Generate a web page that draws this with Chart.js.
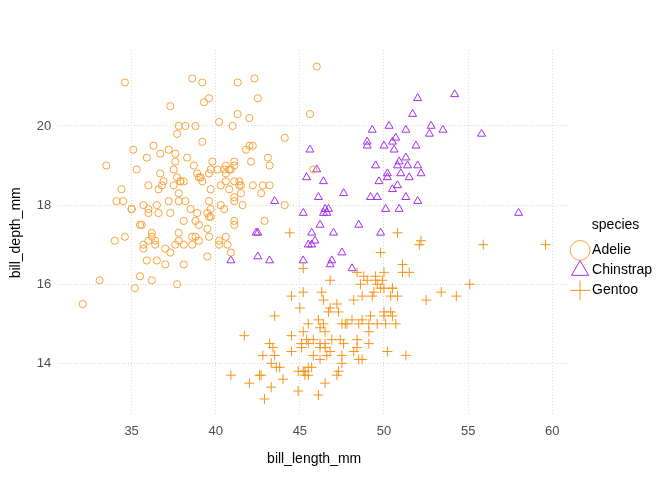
<!DOCTYPE html>
<html>
<head>
<meta charset="utf-8">
<script src="https://cdn.jsdelivr.net/npm/chart.js@4"></script>
<style>
  html, body { margin: 0; padding: 0; background: #fff; }
  #wrap { position: relative; width: 672px; height: 480px; }
</style>
</head>
<body>
<div id="wrap"><canvas id="c"></canvas></div>
<script>
// species names
const speciesNames = ['Adelie', 'Chinstrap', 'Gentoo'];

// bill_length_mm / bill_depth_mm per species
const adelieLength = [39.1,39.5,40.3,36.7,39.3,38.9,39.2,34.1,42,37.8,37.8,41.1,38.6,34.6,36.6,38.7,42.5,34.4,46,37.8,37.7,35.9,38.2,38.8,35.3,40.6,40.5,37.9,40.5,39.5,37.2,39.5,40.9,36.4,39.2,38.8,42.2,37.6,39.8,36.5,40.8,36,44.1,37,39.6,41.1,37.5,36,42.3,39.6,40.1,35,42,34.5,41.4,39,40.6,36.5,37.6,35.7,41.3,37.6,41.1,36.4,41.6,35.5,41.1,35.9,41.8,33.5,39.7,39.6,45.8,35.5,42.8,40.9,37.2,36.2,42.1,34.6,42.9,36.7,35.1,37.3,41.3,36.3,36.9,38.3,38.9,35.7,41.1,34,39.6,36.2,40.8,38.1,40.3,33.1,43.2,35,41,37.7,37.8,37.9,39.7,38.6,38.2,38.1,43.2,38.1,45.6,39.7,42.2,39.6,42.7,38.6,37.3,35.7,41.1,36.2,37.7,40.2,41.4,35.2,40.6,38.8,41.5,39,44.1,38.5,43.1,36.8,37.5,38.1,41.1,35.6,40.2,37,39.7,40.2,40.6,32.1,40.7,37.3,39,39.2,36.6,36,37.8,36,41.5];
const adelieDepth = [18.7,17.4,18,19.3,20.6,17.8,19.6,18.1,20.2,17.1,17.3,17.6,21.2,21.1,17.8,19,20.7,18.4,21.5,18.3,18.7,19.2,18.1,17.2,18.9,18.6,17.9,18.6,18.9,16.7,18.1,17.8,18.9,17,21.1,20,18.5,19.3,19.1,18,18.4,18.5,19.7,16.9,18.8,19,18.9,17.9,21.2,17.7,18.9,17.9,19.5,18.1,18.6,17.5,18.8,16.6,19.1,16.9,21.1,17,18.2,17.1,18,16.2,19.1,16.6,19.4,19,18.4,17.2,18.9,17.5,18.5,16.8,19.4,16.1,19.1,17.2,17.6,18.8,19.4,17.8,20.3,19.5,18.6,19.2,18.8,18,18.1,17.1,18.1,17.3,18.9,18.6,18.5,16.1,18.5,17.9,20,16,20,18.6,18.9,17.2,20,17,19,16.5,20.3,17.7,19.5,20.7,18.3,17,20.5,17,18.6,17.2,19.8,17,18.5,15.9,19,17.6,18.3,17.1,18,17.9,19.2,18.5,18.5,17.6,17.5,17.5,20.1,16.5,17.9,17.1,17.2,15.5,17,16.8,18.7,18.6,18.4,17.8,18.1,17.1,18.5];

const chinstrapLength = [46.5,50,51.3,45.4,52.7,45.2,46.1,51.3,46,51.3,46.6,51.7,47,52,45.9,50.5,50.3,58,46.4,49.2,42.4,48.5,43.2,50.6,46.7,52,50.5,49.5,46.4,52.8,40.9,54.2,42.5,51,49.7,47.5,47.6,52,46.9,53.5,49,46.2,50.9,45.5,50.9,50.8,50.1,49,51.5,49.8,48.1,51.4,45.7,50.7,42.5,52.2,45.2,49.3,50.2,45.6,51.9,46.8,45.7,55.8,43.5,49.6,50.8,50.2];
const chinstrapDepth = [17.9,19.5,19.2,18.7,19.8,17.8,18.2,18.2,18.9,19.9,17.8,20.3,17.3,18.1,17.1,19.6,20,17.8,18.6,18.2,17.3,17.5,16.6,19.4,17.9,19,18.4,19,17.8,20,16.6,20.8,16.7,18.8,18.6,16.8,18.3,20.7,16.6,19.9,19.5,17.5,19.1,17,17.9,18.5,17.9,19.6,18.7,17.3,16.4,19,17.3,19.7,17.3,18.8,16.6,19.9,18.8,19.4,19.5,16.5,17,19.8,18.1,18.2,19,18.7];

const gentooLength = [46.1,50,48.7,50,47.6,46.5,45.4,46.7,43.3,46.8,40.9,49,45.5,48.4,45.8,49.3,42,49.2,46.2,48.7,50.2,45.1,46.5,46.3,42.9,46.1,44.5,47.8,48.2,50,47.3,42.8,45.1,59.6,49.1,48.4,42.6,44.4,44,48.7,42.7,49.6,45.3,49.6,50.5,43.6,45.5,50.5,44.9,45.2,46.6,48.5,45.1,50.1,46.5,45,43.8,45.5,43.2,50.4,45.3,46.2,45.7,54.3,45.8,49.8,46.2,49.5,43.5,50.7,47.7,46.4,48.2,46.5,46.4,48.6,47.5,51.1,45.2,45.2,49.1,52.5,47.4,50,44.9,50.8,43.4,51.3,47.5,52.1,47.5,52.2,45.5,49.5,44.5,50.8,49.4,46.9,48.4,51.1,48.5,55.9,47.2,49.1,47.3,46.8,41.7,53.4,43.3,48.1,50.5,49.8,43.5,51.5,46.2,55.1,44.5,48.8,47.2,46.8,50.4,45.2,49.9];
const gentooDepth = [13.2,16.3,14.1,15.2,14.5,13.5,14.6,15.3,13.4,15.4,13.7,16.1,13.7,14.6,14.6,15.7,13.5,15.2,14.5,15.1,14.3,14.5,14.5,15.8,13.1,15.1,14.3,15,14.3,15.3,15.3,14.2,14.5,17,14.8,16.3,13.7,17.3,13.6,15.7,13.7,16,13.7,15,15.9,13.9,13.9,15.9,13.3,15.8,14.2,14.1,14.4,15,14.4,15.4,13.9,15,14.5,15.3,13.8,14.9,13.9,15.7,14.2,16.8,14.4,16.2,14.2,15,15,15.6,15.6,14.8,15,16,14.2,16.3,13.8,16.4,14.5,15.6,14.6,15.9,13.8,17.3,14.4,14.2,14,17,15,17.1,14.5,16.1,14.7,15.7,15.8,14.6,14.4,16.5,15,17,15.5,15,13.8,16.1,14.7,15.8,14,15.1,15.2,15.9,15.2,16.3,14.1,16,15.7,16.2,13.7,14.3,15.7,14.8,16.1];

const xTicks = [35, 40, 45, 50, 55, 60];
const yTicks = [14, 16, 18, 20];

function pairs(xs, ys) {
  return xs.map((x, i) => ({ x: x, y: ys[i] }));
}

const gridStyle = { color: '#d9d9d9', lineWidth: 1, drawTicks: false };
const borderStyle = { display: false, dash: [1, 2] };

new Chart(document.getElementById('c'), {
  type: 'scatter',
  data: {
    datasets: [
      {
        label: speciesNames[0],
        data: pairs(adelieLength, adelieDepth),
        pointStyle: 'circle',
        pointRadius: 3.6,
        borderColor: '#F8A33A',
        backgroundColor: 'rgba(0,0,0,0)',
        borderWidth: 1,
      },
      {
        label: speciesNames[1],
        data: pairs(chinstrapLength, chinstrapDepth),
        pointStyle: 'triangle',
        pointRadius: 4.6,
        borderColor: '#A42FEF',
        backgroundColor: 'rgba(0,0,0,0)',
        borderWidth: 1,
      },
      {
        label: speciesNames[2],
        data: pairs(gentooLength, gentooDepth),
        pointStyle: 'cross',
        pointRadius: 5,
        borderColor: '#F7941D',
        backgroundColor: 'rgba(0,0,0,0)',
        borderWidth: 1,
      },
    ],
  },
  options: {
    responsive: true,
    maintainAspectRatio: false,
    animation: false,
    layout: { padding: { top: 50, right: 10, bottom: 8, left: 4 } },
    plugins: {
      tooltip: { enabled: false },
      legend: {
        position: 'right',
        title: { display: true, text: 'species', color: '#000', font: { family: 'Liberation Sans', size: 14 }, padding: { top: 0, bottom: 2 } },
        labels: {
          usePointStyle: true,
          color: '#000',
          font: { family: 'Liberation Sans', size: 14 },
          boxWidth: 10,
          padding: 6,
        },
      },
    },
    scales: {
      x: {
        type: 'linear',
        min: 30.7,
        max: 61,
        afterBuildTicks: axis => { axis.ticks = xTicks.map(v => ({ value: v })); },
        grid: { ...gridStyle, tickBorderDash: [1, 2] },
        border: borderStyle,
        ticks: { color: '#4d4d4d', font: { family: 'Liberation Sans', size: 13 }, padding: 8 },
        title: { display: true, text: 'bill_length_mm', color: '#000', font: { family: 'Liberation Sans', size: 14 } },
      },
      y: {
        type: 'linear',
        min: 12.68,
        max: 21.92,
        afterBuildTicks: axis => { axis.ticks = yTicks.map(v => ({ value: v })); },
        grid: gridStyle,
        border: borderStyle,
        ticks: { color: '#4d4d4d', font: { family: 'Liberation Sans', size: 13 }, padding: 8 },
        title: { display: true, text: 'bill_depth_mm', color: '#000', font: { family: 'Liberation Sans', size: 14 } },
      },
    },
  },
  plugins: [{
    id: 'dottedGrid',
    beforeDraw(chart) {
      for (const id of ['x', 'y']) {
        chart.options.scales[id].grid.borderDash = [1, 2];
      }
    },
  }],
});
</script>
</body>
</html>
